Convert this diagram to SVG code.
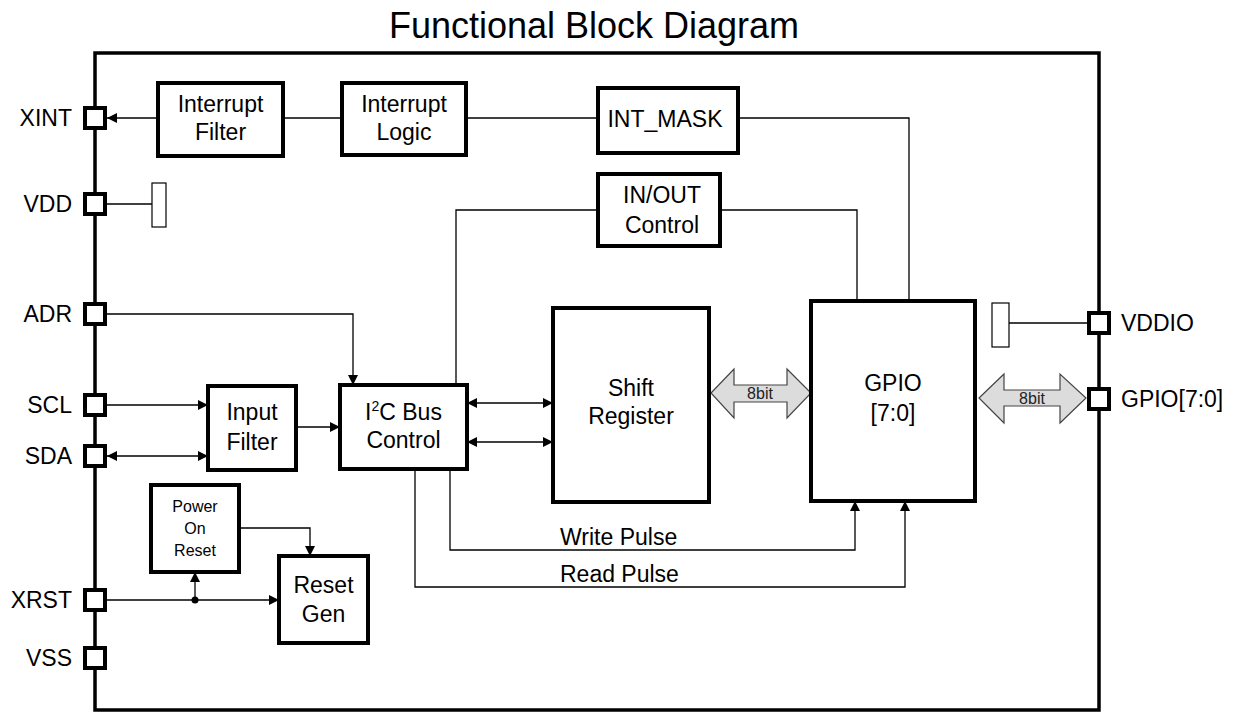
<svg xmlns="http://www.w3.org/2000/svg" width="1240" height="715" viewBox="0 0 1240 715">
<style>
  text { font-family: "Liberation Sans", Arial, sans-serif; fill: #000; }
  .lbl { font-size: 23px; }
  .blk { font-size: 23px; text-anchor: middle; }
  .small { font-size: 16px; text-anchor: middle; }
  .bus { font-size: 16px; text-anchor: middle; fill: #222; }
  .box { fill: #fff; stroke: #000; stroke-width: 4; }
  .pin { fill: #fff; stroke: #000; stroke-width: 4; }
  .wire { fill: none; stroke: #000; stroke-width: 1.3; }
  .cap { fill: #fff; stroke: #000; stroke-width: 1.2; }
  .busarrow { fill: #dcdcdc; stroke: #444; stroke-width: 1.2; }
</style>
<defs>
  <marker id="ah" viewBox="0 0 10 10" refX="10" refY="5" markerWidth="10" markerHeight="10" markerUnits="userSpaceOnUse" orient="auto-start-reverse">
    <path d="M0,0 L10,5 L0,10 Z" fill="#000"/>
  </marker>
</defs>
<rect width="1240" height="715" fill="#fff"/>

<text x="594" y="38" font-size="36" text-anchor="middle">Functional Block Diagram</text>

<g id="chip">
  <rect x="95" y="53" width="1004" height="657" fill="none" stroke="#000" stroke-width="3.5"/>
</g>

<g id="connectors">
  <line class="wire" x1="158" y1="118" x2="107" y2="118" marker-end="url(#ah)"/>
  <line class="wire" x1="283" y1="118" x2="342" y2="118"/>
  <line class="wire" x1="466" y1="118" x2="598" y2="118"/>
  <polyline class="wire" points="738,118 909,118 909,301"/>
  <line class="wire" x1="107" y1="204" x2="152" y2="204"/>
  <polyline class="wire" points="598,210 456,210 456,385"/>
  <polyline class="wire" points="720,210 857,210 857,301"/>
  <polyline class="wire" points="107,314 353,314 353,385" marker-end="url(#ah)"/>
  <line class="wire" x1="107" y1="405" x2="208" y2="405" marker-end="url(#ah)"/>
  <line class="wire" x1="107" y1="456" x2="208" y2="456" marker-start="url(#ah)" marker-end="url(#ah)"/>
  <line class="wire" x1="296" y1="427" x2="340" y2="427" marker-end="url(#ah)"/>
  <line class="wire" x1="467" y1="403" x2="553" y2="403" marker-start="url(#ah)" marker-end="url(#ah)"/>
  <line class="wire" x1="467" y1="442" x2="553" y2="442" marker-start="url(#ah)" marker-end="url(#ah)"/>
  <polyline class="wire" points="450,469 450,550 855,550 855,501" marker-end="url(#ah)"/>
  <polyline class="wire" points="415,469 415,587 905,587 905,501" marker-end="url(#ah)"/>
  <polyline class="wire" points="239,528 310,528 310,556" marker-end="url(#ah)"/>
  <line class="wire" x1="107" y1="600" x2="279" y2="600" marker-end="url(#ah)"/>
  <line class="wire" x1="195" y1="600" x2="195" y2="572" marker-end="url(#ah)"/>
  <circle cx="195" cy="600" r="3.5" fill="#000"/>
  <line class="wire" x1="1009" y1="323" x2="1088" y2="323"/>
  <polygon class="busarrow" points="711,393 734,369 734,385 787,385 787,369 811,393 787,418 787,402 734,402 734,418"/>
  <text class="bus" x="760" y="399">8bit</text>
  <polygon class="busarrow" points="979,398 1004,374 1004,390 1060,390 1060,374 1086,398 1060,423 1060,406 1004,406 1004,423"/>
  <text class="bus" x="1032" y="404">8bit</text>
</g>

<g id="vdd-cap"><rect class="cap" x="152" y="183" width="14" height="44"/></g>
<g id="vddio-cap"><rect class="cap" x="992" y="303" width="17" height="44"/></g>

<g id="pin-xint"><rect class="pin" x="85" y="108" width="20" height="20"/><text class="lbl" x="72" y="126" text-anchor="end">XINT</text></g>
<g id="pin-vdd"><rect class="pin" x="85" y="194" width="20" height="20"/><text class="lbl" x="72" y="212" text-anchor="end">VDD</text></g>
<g id="pin-adr"><rect class="pin" x="85" y="304" width="20" height="20"/><text class="lbl" x="72" y="322" text-anchor="end">ADR</text></g>
<g id="pin-scl"><rect class="pin" x="85" y="395" width="20" height="20"/><text class="lbl" x="72" y="413" text-anchor="end">SCL</text></g>
<g id="pin-sda"><rect class="pin" x="85" y="446" width="20" height="20"/><text class="lbl" x="72" y="464" text-anchor="end">SDA</text></g>
<g id="pin-xrst"><rect class="pin" x="85" y="590" width="20" height="20"/><text class="lbl" x="72" y="608" text-anchor="end">XRST</text></g>
<g id="pin-vss"><rect class="pin" x="85" y="648" width="20" height="20"/><text class="lbl" x="72" y="666" text-anchor="end">VSS</text></g>
<g id="pin-vddio"><rect class="pin" x="1089" y="313" width="20" height="20"/><text class="lbl" x="1121" y="331">VDDIO</text></g>
<g id="pin-gpio"><rect class="pin" x="1089" y="389" width="20" height="20"/><text class="lbl" x="1121" y="407">GPIO[7:0]</text></g>

<g id="interrupt-filter"><rect class="box" x="158" y="83" width="125" height="73"/><text class="blk" x="220.5" y="112">Interrupt</text><text class="blk" x="220.5" y="140">Filter</text></g>
<g id="interrupt-logic"><rect class="box" x="342" y="83" width="124" height="72"/><text class="blk" x="404" y="112">Interrupt</text><text class="blk" x="404" y="140">Logic</text></g>
<g id="int-mask"><rect class="box" x="598" y="88" width="140" height="65"/><text class="blk" x="665" y="127">INT_MASK</text></g>
<g id="inout-control"><rect class="box" x="598" y="174" width="122" height="72"/><text class="blk" x="662" y="203">IN/OUT</text><text class="blk" x="662" y="233">Control</text></g>
<g id="shift-register"><rect class="box" x="553" y="308" width="156" height="194"/><text class="blk" x="631" y="396">Shift</text><text class="blk" x="631" y="424">Register</text></g>
<g id="gpio"><rect class="box" x="811" y="301" width="164" height="200"/><text class="blk" x="893" y="391" font-size="25">GPIO</text><text class="blk" x="893" y="421" font-size="25">[7:0]</text></g>
<g id="input-filter"><rect class="box" x="208" y="386" width="88" height="84"/><text class="blk" x="252" y="420">Input</text><text class="blk" x="252" y="450">Filter</text></g>
<g id="i2c-bus-control"><rect class="box" x="340" y="385" width="127" height="84"/><text class="blk" x="403.5" y="420">I<tspan font-size="14" dy="-9">2</tspan><tspan dy="9">C Bus</tspan></text><text class="blk" x="403.5" y="448">Control</text></g>
<g id="power-on-reset"><rect class="box" x="151" y="485" width="88" height="87"/><text class="small" x="195" y="512">Power</text><text class="small" x="195" y="534">On</text><text class="small" x="195" y="556">Reset</text></g>
<g id="reset-gen"><rect class="box" x="279" y="556" width="89" height="87"/><text class="blk" x="323.5" y="593">Reset</text><text class="blk" x="323.5" y="622">Gen</text></g>

<g id="pulse-labels">
  <text class="lbl" x="560" y="545">Write Pulse</text>
  <text class="lbl" x="560" y="582">Read Pulse</text>
</g>
</svg>
